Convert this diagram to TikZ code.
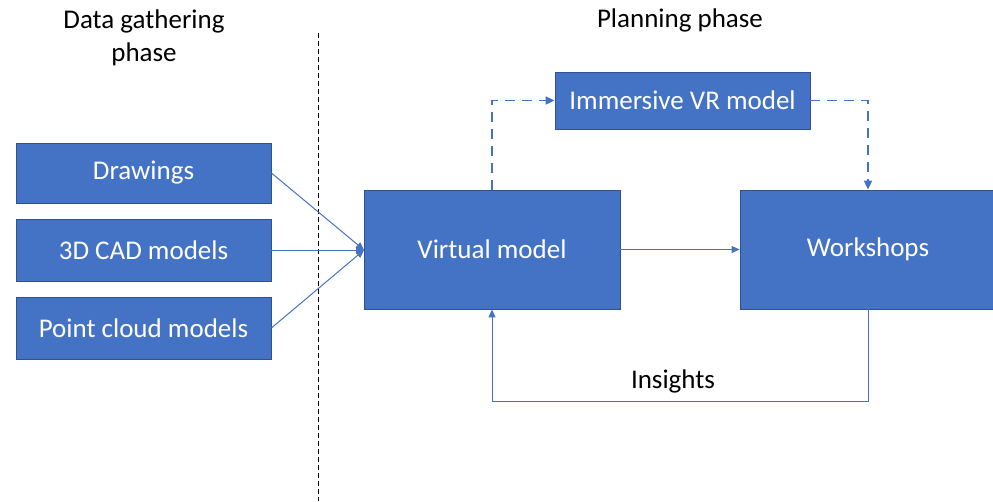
\documentclass[tikz,border=0pt]{standalone}
\usepackage{fontspec}
\setmainfont{Carlito}
\usetikzlibrary{arrows.meta}
\definecolor{boxblue}{HTML}{4472C4}
\definecolor{boxedge}{HTML}{2F528F}
\begin{document}
\begin{tikzpicture}[x=1pt,y=-1pt,
  blk/.style={draw=boxedge,line width=0.8pt,fill=boxblue,text=white,inner sep=0pt,font=\fontsize{27}{30}\selectfont},
  conn/.style={draw=boxblue,line width=1pt,-{Triangle[length=8pt,width=7pt]}},
  dconn/.style={draw=boxblue,line width=1.8pt,dash pattern=on 10pt off 7pt,-{Triangle[length=9pt,width=8pt]}},
  ttl/.style={font=\fontsize{27}{33}\selectfont,align=center,text=black}]
\useasboundingbox (0,0) rectangle (993,501);
\node[blk,minimum width=255pt,minimum height=60pt] (dr) at (143.5,173) {Drawings};
\node[blk,minimum width=255pt,minimum height=62pt] (cad) at (143.5,250) {3D CAD models};
\node[blk,minimum width=255pt,minimum height=62pt] (pc) at (143.5,328) {Point cloud models};
\node[blk,minimum width=256pt,minimum height=119pt] (vm) at (492,249.5) {Virtual model};
\node[blk,minimum width=256pt,minimum height=119pt] (ws) at (868,249.5) {Workshops};
\node[blk,minimum width=255pt,minimum height=57pt] (vr) at (682.5,100.5) {Immersive VR model};
\node[ttl] (t1) at (144,38) {Data gathering\\phase};
\node[ttl] (t2) at (680,20) {Planning phase};
\coordinate (d1) at (318,33);
\coordinate (d2) at (318,501);
\draw[black,line width=1pt,dash pattern=on 5pt off 3pt] (d1) -- (d2);
\coordinate (vin) at (364,250);
\draw[conn] (dr.east) -- (vin);
\draw[conn] (cad.east) -- (vin);
\draw[conn] (pc.east) -- (vin);
\draw[conn] (vm.east) -- (ws.west);
\draw[dconn] (vm.north) |- (vr.west);
\draw[dconn] (vr.east) -| (ws.north);
\coordinate (b1) at (868,401);
\coordinate (b2) at (492,401);
\draw[conn] (ws.south) -- (b1) -- (b2) -- (vm.south);
\node[ttl] (ins) at (673,381) {Insights};
\end{tikzpicture}
\end{document}
